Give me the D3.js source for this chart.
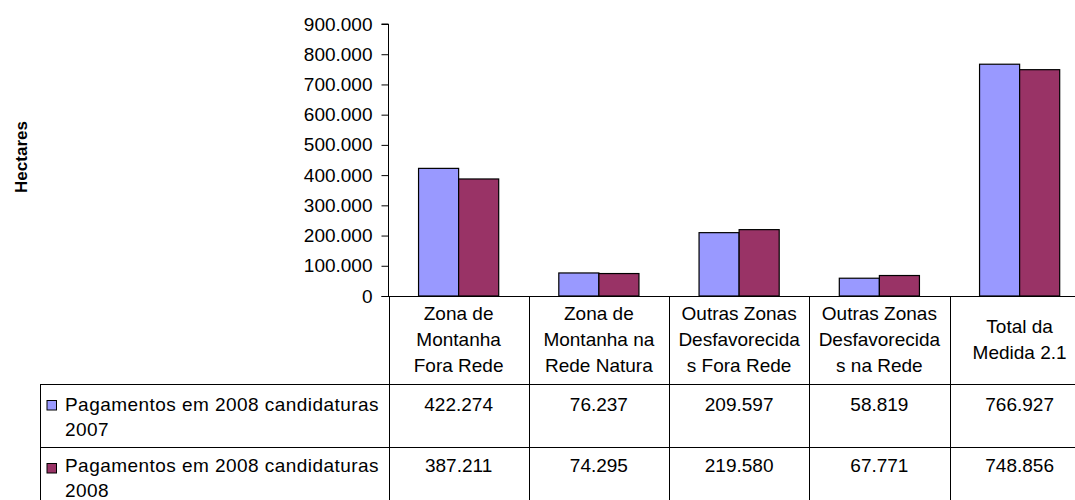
<!DOCTYPE html>
<html>
<head>
<meta charset="utf-8">
<script src="https://cdn.jsdelivr.net/npm/d3@7"></script>
<style>
	body { margin: 0; background: #fff; }
	text { font-family: "Liberation Sans", Arial, sans-serif; fill: #000; }
</style>
</head>
<body>
<svg id="chart" width="1075" height="500"></svg>
<script>
// categories, each one split into the lines shown in the table header
const categories = [
	["Zona de", "Montanha", "Fora Rede"],
	["Zona de", "Montanha na", "Rede Natura"],
	["Outras Zonas", "Desfavorecida", "s Fora Rede"],
	["Outras Zonas", "Desfavorecida", "s na Rede"],
	["Total da", "Medida 2.1"]
];
const seriesNames = [
	["Pagamentos em 2008 candidaturas", "2007"],
	["Pagamentos em 2008 candidaturas", "2008"]
];
const values2007 = [422274, 76237, 209597, 58819, 766927];
const values2008 = [387211, 74295, 219580, 67771, 748856];
const yTicks = [0, 100000, 200000, 300000, 400000, 500000, 600000, 700000, 800000, 900000];
const colors = ["#9999FF", "#993366"];

const series = [values2007, values2008];

const pt = d3.formatLocale({decimal: ",", thousands: ".", grouping: [3], currency: ["", ""]});
const fmt = pt.format(",d");

let svg = d3.select("#chart"),
	FONT = 19,
	LEFT = 388.5,
	TOP = 24,
	BASE = 296,
	tableLeft = 40.5,
	rowLines = [296, 384, 447],
	rowBaselines = [411, 471.5],
	xScale = d3.scaleBand()
		.domain(d3.range(categories.length))
		.range([LEFT, LEFT + 140.25 * categories.length]),
	inner = d3.scaleBand()
		.domain(d3.range(series.length))
		.range([0, xScale.bandwidth()])
		.paddingOuter(0.75),
	yScale = d3.scaleLinear()
		.domain([0, 900000])
		.range([BASE, TOP]);

// y axis
let yAxis = svg.append("g")
	.attr("transform", "translate(" + LEFT + ",0)")
	.call(d3.axisLeft(yScale).tickValues(yTicks).tickSize(7).tickPadding(9).tickFormat(fmt));
yAxis.select(".domain").attr("stroke", "#000").attr("d", "M-7," + TOP + "H0V" + BASE);
yAxis.selectAll(".tick line").attr("stroke", "#000");
yAxis.selectAll(".tick text")
	.style("font-size", FONT + "px")
	.style("font-family", "'Liberation Sans', Arial, sans-serif")
	.attr("fill", "#000");

svg.append("text")
	.attr("transform", "translate(26.5,157) rotate(-90)")
	.attr("text-anchor", "middle")
	.style("font-size", "17px")
	.style("font-weight", "bold")
	.text("Hectares");

// bars
for (let s = 0; s < series.length; s++) {
	svg.append("g").selectAll("rect")
		.data(series[s])
		.join("rect")
		.attr("x", (d, i) => xScale(i) + inner(s))
		.attr("y", d => yScale(d))
		.attr("width", inner.bandwidth())
		.attr("height", d => BASE - yScale(d))
		.attr("fill", colors[s])
		.attr("stroke", "#000")
		.attr("stroke-width", 1.2);
}

// data table
let grid = svg.append("g").attr("stroke", "#000").attr("stroke-width", 1).attr("fill", "none");
grid.append("line").attr("x1", LEFT - 7).attr("x2", 1075).attr("y1", BASE + 0.5).attr("y2", BASE + 0.5);
grid.append("line").attr("x1", tableLeft).attr("x2", 1075).attr("y1", rowLines[1] + 0.5).attr("y2", rowLines[1] + 0.5);
grid.append("line").attr("x1", tableLeft).attr("x2", 1075).attr("y1", rowLines[2] + 0.5).attr("y2", rowLines[2] + 0.5);
grid.append("line").attr("x1", tableLeft).attr("x2", tableLeft).attr("y1", rowLines[1]).attr("y2", 500);
for (let i = 0; i <= categories.length; i++) {
	let x = Math.round(LEFT + 140.25 * i) + 0.5;
	grid.append("line").attr("x1", x).attr("x2", x).attr("y1", BASE).attr("y2", 500);
}

// header rows
categories.forEach(function (lines, i) {
	let cx = xScale(i) + xScale.bandwidth() / 2;
	let y0 = 320 + (3 - lines.length) * 13;
	let t = svg.append("text")
		.attr("text-anchor", "middle")
		.style("font-size", FONT + "px");
	lines.forEach(function (l, k) {
		t.append("tspan").attr("x", cx).attr("y", y0 + k * 26).text(l);
	});
});

// values and legend
series.forEach(function (vals, s) {
	let top = rowLines[s + 1];
	let yb = rowBaselines[s];
	svg.append("rect")
		.attr("x", 47)
		.attr("y", top + 16.5)
		.attr("width", 9.5)
		.attr("height", 9.5)
		.attr("fill", colors[s])
		.attr("stroke", "#000");
	let t = svg.append("text")
		.style("font-size", FONT + "px")
		.style("letter-spacing", "0.45px");
	seriesNames[s].forEach(function (l, k) {
		t.append("tspan").attr("x", 65).attr("y", yb + k * 25).text(l);
	});
	svg.append("g").selectAll("text")
		.data(vals)
		.join("text")
		.attr("x", (d, i) => xScale(i) + xScale.bandwidth() / 2)
		.attr("y", yb)
		.attr("text-anchor", "middle")
		.style("font-size", FONT + "px")
		.text(d => fmt(d));
});
</script>
</body>
</html>
